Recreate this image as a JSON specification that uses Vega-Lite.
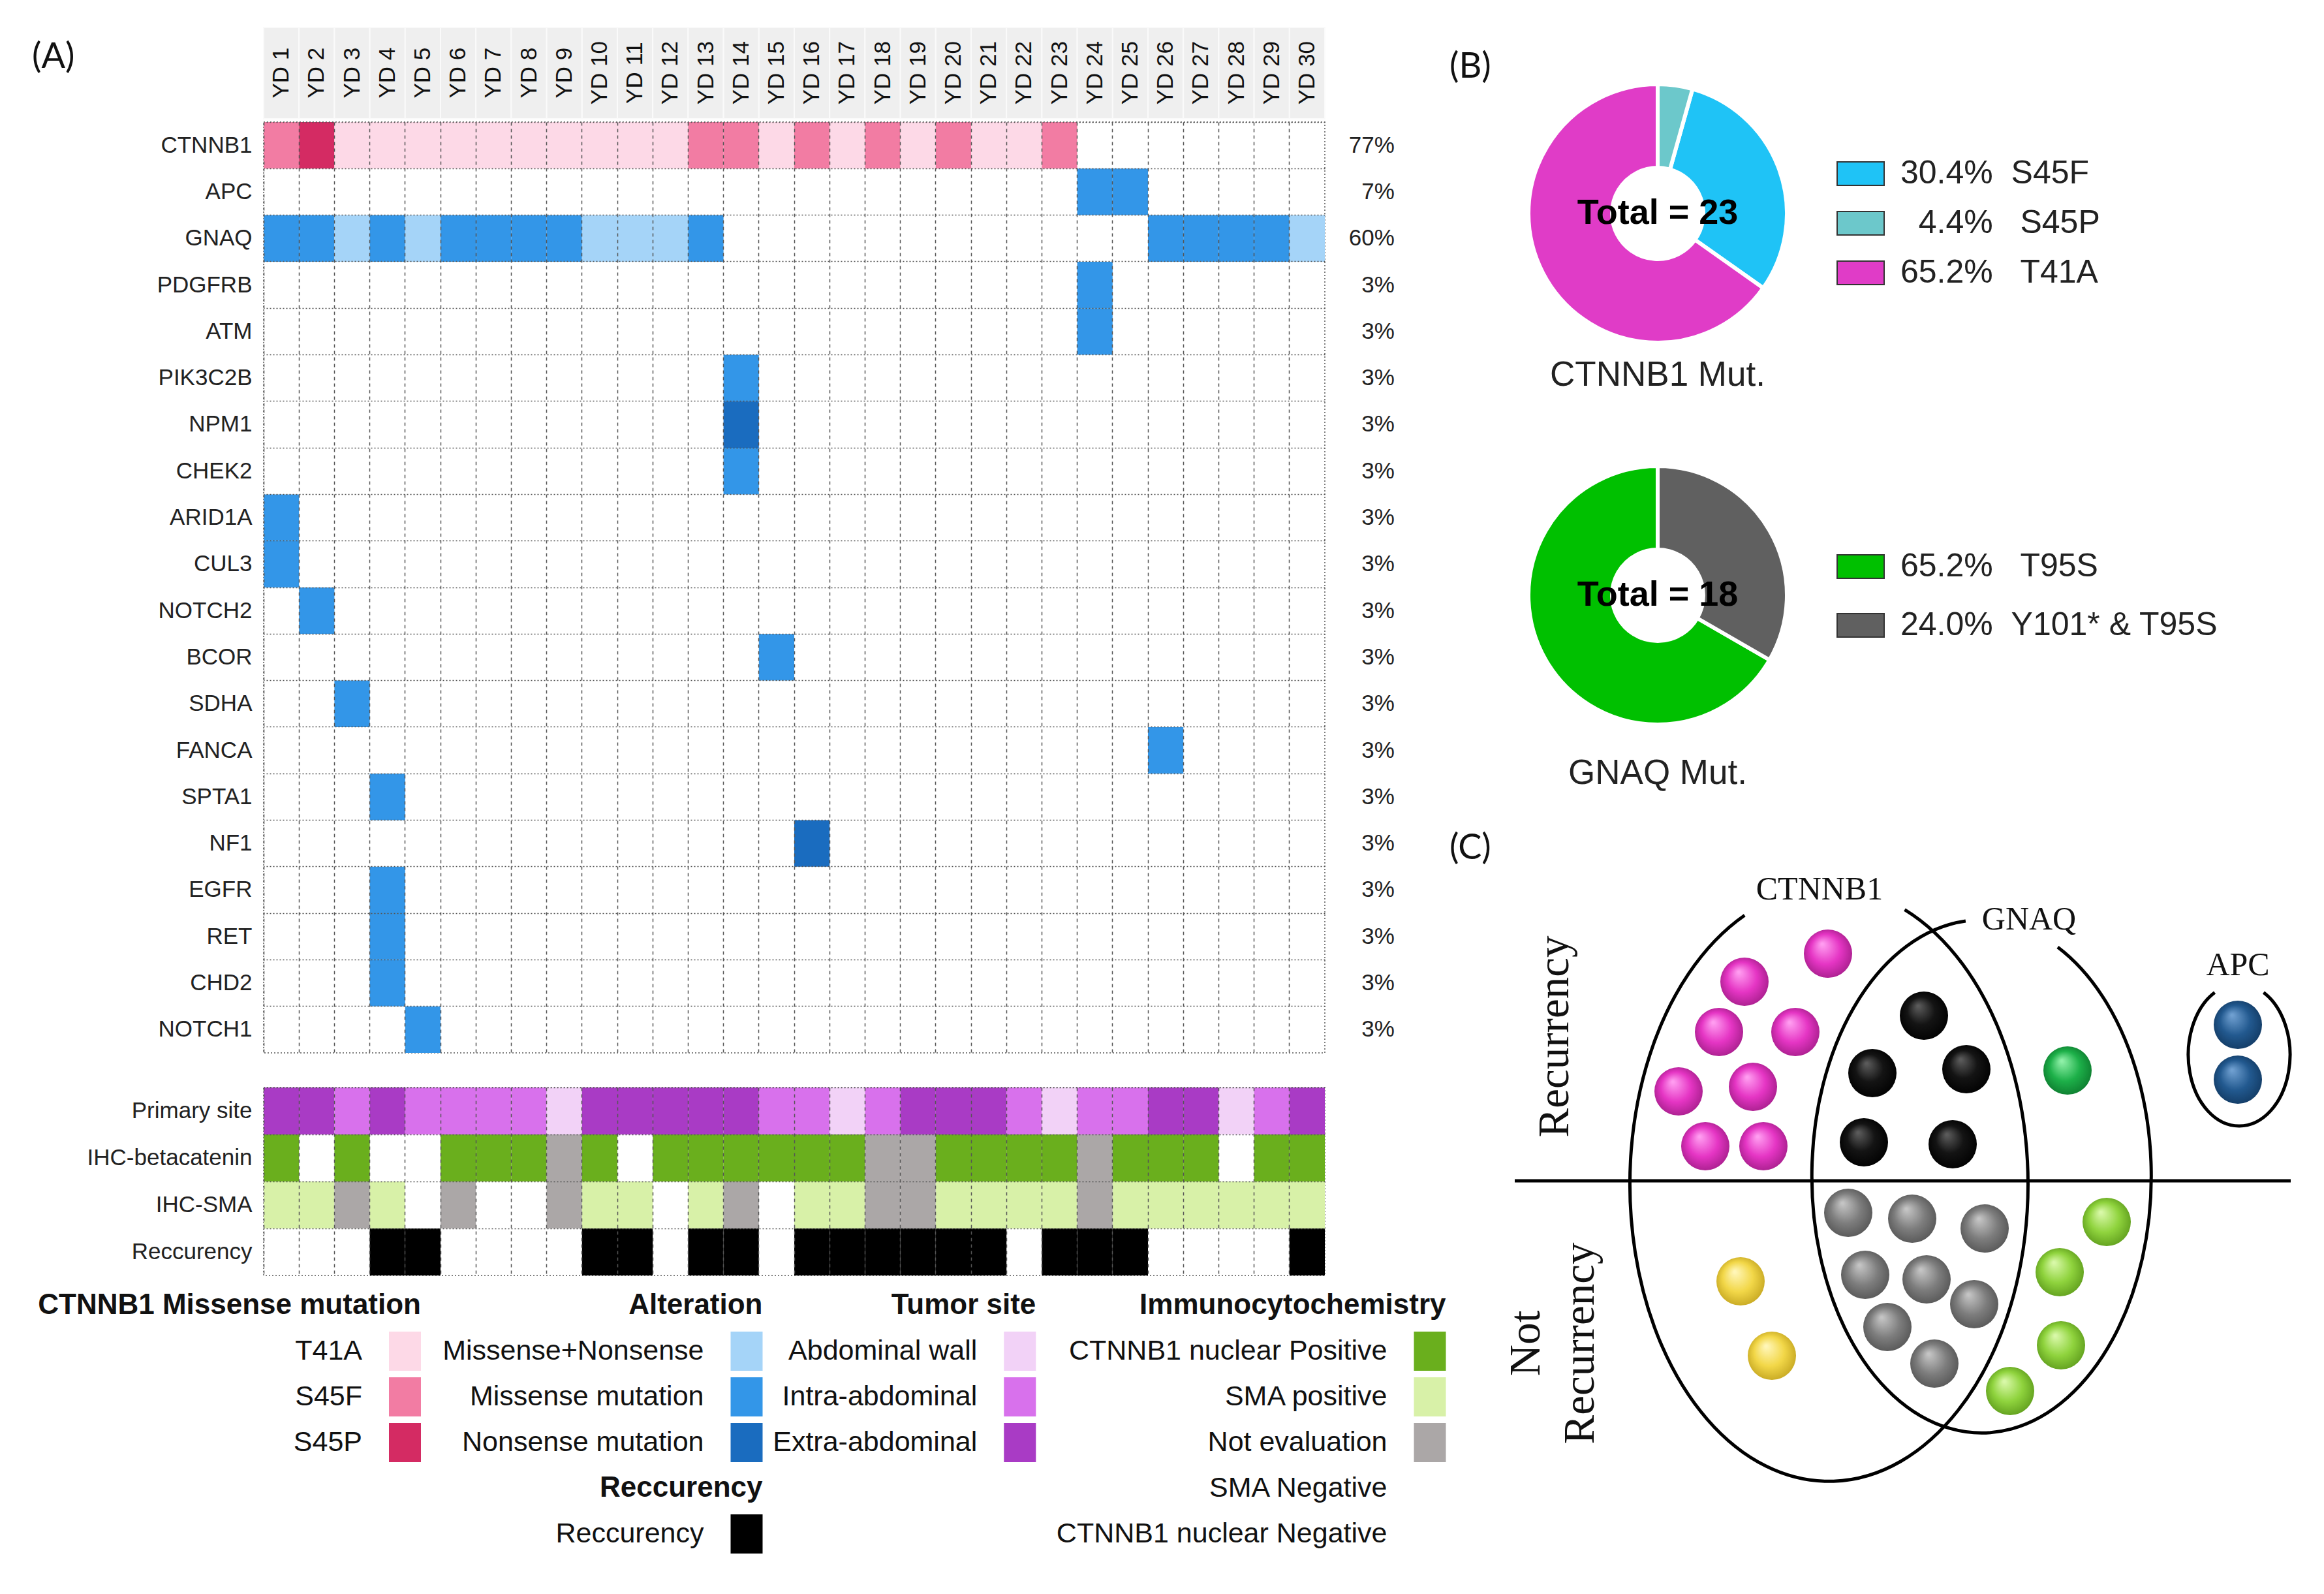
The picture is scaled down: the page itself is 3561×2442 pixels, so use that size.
{
"$schema":"https://vega.github.io/schema/vega-lite/v6.json",
"background":"white",
"padding":{"left":49,"top":41,"right":0,"bottom":0},
"config":{"font":"Liberation Sans, Arial, sans-serif","view":{"stroke":null},"text":{"font":"Liberation Sans, Arial, sans-serif"},"axis":{"labelFont":"Liberation Sans, Arial, sans-serif"}},
"spacing":4,
"resolve":{"scale":{"x":"independent","y":"independent","color":"independent"}},
"hconcat":[
{
"vconcat":[
{
"width":1626,"height":145,
"data":{"values":[{"s":"YD 1"},{"s":"YD 2"},{"s":"YD 3"},{"s":"YD 4"},{"s":"YD 5"},{"s":"YD 6"},{"s":"YD 7"},{"s":"YD 8"},{"s":"YD 9"},{"s":"YD 10"},{"s":"YD 11"},{"s":"YD 12"},{"s":"YD 13"},{"s":"YD 14"},{"s":"YD 15"},{"s":"YD 16"},{"s":"YD 17"},{"s":"YD 18"},{"s":"YD 19"},{"s":"YD 20"},{"s":"YD 21"},{"s":"YD 22"},{"s":"YD 23"},{"s":"YD 24"},{"s":"YD 25"},{"s":"YD 26"},{"s":"YD 27"},{"s":"YD 28"},{"s":"YD 29"},{"s":"YD 30"}]},
"layer":[
{"mark":{"type":"rect","fill":"#efefef","stroke":"#fafafa","strokeWidth":2},
"encoding":{"x":{"field":"s","type":"nominal","sort":null,"scale":{"domain":["YD 1","YD 2","YD 3","YD 4","YD 5","YD 6","YD 7","YD 8","YD 9","YD 10","YD 11","YD 12","YD 13","YD 14","YD 15","YD 16","YD 17","YD 18","YD 19","YD 20","YD 21","YD 22","YD 23","YD 24","YD 25","YD 26","YD 27","YD 28","YD 29","YD 30"],"paddingInner":0,"paddingOuter":0},"axis":null},
"y":{"datum":0.035,"type":"quantitative","scale":{"domain":[0,1],"nice":false},"axis":null},"y2":{"datum":1}}},
{"mark":{"type":"text","angle":270,"align":"center","baseline":"middle","fontSize":35,"color":"#111111"},
"encoding":{"x":{"field":"s","type":"nominal"},"y":{"datum":0.52,"type":"quantitative"},"text":{"field":"s"}}},
{"data":{"values":[{"lab":"(A)"}]},"mark":{"type":"text","align":"left","baseline":"middle","fontSize":54,"font":"Lato","dx":-382,"color":"#111111"},
"encoding":{"x":{"datum":"YD 1","type":"nominal"},"y":{"datum":0.683,"type":"quantitative"},"text":{"field":"lab"}}}
]
},
{
"width":1626,"height":1426,
"view":{"stroke":"#555555","strokeDash":[2,3],"strokeWidth":1.5},
"resolve":{"axis":{"y":"independent"}},
"layer":[
{"data":{"values":[
{"s":"YD 1","g":"CTNNB1","v":"S45F"},{"s":"YD 2","g":"CTNNB1","v":"S45P"},{"s":"YD 3","g":"CTNNB1","v":"T41A"},{"s":"YD 4","g":"CTNNB1","v":"T41A"},{"s":"YD 5","g":"CTNNB1","v":"T41A"},{"s":"YD 6","g":"CTNNB1","v":"T41A"},{"s":"YD 7","g":"CTNNB1","v":"T41A"},{"s":"YD 8","g":"CTNNB1","v":"T41A"},{"s":"YD 9","g":"CTNNB1","v":"T41A"},{"s":"YD 10","g":"CTNNB1","v":"T41A"},{"s":"YD 11","g":"CTNNB1","v":"T41A"},{"s":"YD 12","g":"CTNNB1","v":"T41A"},{"s":"YD 13","g":"CTNNB1","v":"S45F"},{"s":"YD 14","g":"CTNNB1","v":"S45F"},{"s":"YD 15","g":"CTNNB1","v":"T41A"},{"s":"YD 16","g":"CTNNB1","v":"S45F"},{"s":"YD 17","g":"CTNNB1","v":"T41A"},{"s":"YD 18","g":"CTNNB1","v":"S45F"},{"s":"YD 19","g":"CTNNB1","v":"T41A"},{"s":"YD 20","g":"CTNNB1","v":"S45F"},{"s":"YD 21","g":"CTNNB1","v":"T41A"},{"s":"YD 22","g":"CTNNB1","v":"T41A"},{"s":"YD 23","g":"CTNNB1","v":"S45F"},
{"s":"YD 24","g":"APC","v":"Missense mutation"},{"s":"YD 25","g":"APC","v":"Missense mutation"},
{"s":"YD 1","g":"GNAQ","v":"Missense mutation"},{"s":"YD 2","g":"GNAQ","v":"Missense mutation"},{"s":"YD 3","g":"GNAQ","v":"Missense+Nonsense"},{"s":"YD 4","g":"GNAQ","v":"Missense mutation"},{"s":"YD 5","g":"GNAQ","v":"Missense+Nonsense"},{"s":"YD 6","g":"GNAQ","v":"Missense mutation"},{"s":"YD 7","g":"GNAQ","v":"Missense mutation"},{"s":"YD 8","g":"GNAQ","v":"Missense mutation"},{"s":"YD 9","g":"GNAQ","v":"Missense mutation"},{"s":"YD 10","g":"GNAQ","v":"Missense+Nonsense"},{"s":"YD 11","g":"GNAQ","v":"Missense+Nonsense"},{"s":"YD 12","g":"GNAQ","v":"Missense+Nonsense"},{"s":"YD 13","g":"GNAQ","v":"Missense mutation"},{"s":"YD 26","g":"GNAQ","v":"Missense mutation"},{"s":"YD 27","g":"GNAQ","v":"Missense mutation"},{"s":"YD 28","g":"GNAQ","v":"Missense mutation"},{"s":"YD 29","g":"GNAQ","v":"Missense mutation"},{"s":"YD 30","g":"GNAQ","v":"Missense+Nonsense"},
{"s":"YD 24","g":"PDGFRB","v":"Missense mutation"},{"s":"YD 24","g":"ATM","v":"Missense mutation"},{"s":"YD 14","g":"PIK3C2B","v":"Missense mutation"},{"s":"YD 14","g":"NPM1","v":"Nonsense mutation"},{"s":"YD 14","g":"CHEK2","v":"Missense mutation"},{"s":"YD 1","g":"ARID1A","v":"Missense mutation"},{"s":"YD 1","g":"CUL3","v":"Missense mutation"},{"s":"YD 2","g":"NOTCH2","v":"Missense mutation"},{"s":"YD 15","g":"BCOR","v":"Missense mutation"},{"s":"YD 3","g":"SDHA","v":"Missense mutation"},{"s":"YD 26","g":"FANCA","v":"Missense mutation"},{"s":"YD 4","g":"SPTA1","v":"Missense mutation"},{"s":"YD 16","g":"NF1","v":"Nonsense mutation"},{"s":"YD 4","g":"EGFR","v":"Missense mutation"},{"s":"YD 4","g":"RET","v":"Missense mutation"},{"s":"YD 4","g":"CHD2","v":"Missense mutation"},{"s":"YD 5","g":"NOTCH1","v":"Missense mutation"}
]},
"mark":{"type":"rect"},
"encoding":{
"x":{"field":"s","type":"nominal","scale":{"domain":["YD 1","YD 2","YD 3","YD 4","YD 5","YD 6","YD 7","YD 8","YD 9","YD 10","YD 11","YD 12","YD 13","YD 14","YD 15","YD 16","YD 17","YD 18","YD 19","YD 20","YD 21","YD 22","YD 23","YD 24","YD 25","YD 26","YD 27","YD 28","YD 29","YD 30"],"paddingInner":0,"paddingOuter":0},
"axis":{"orient":"top","labels":false,"ticks":false,"domain":false,"title":null,"grid":true,"gridDash":[5,5],"gridColor":"#555555","gridWidth":1.5,"bandPosition":0,"zindex":1}},
"y":{"field":"g","type":"nominal","scale":{"domain":["CTNNB1","APC","GNAQ","PDGFRB","ATM","PIK3C2B","NPM1","CHEK2","ARID1A","CUL3","NOTCH2","BCOR","SDHA","FANCA","SPTA1","NF1","EGFR","RET","CHD2","NOTCH1"],"paddingInner":0,"paddingOuter":0},
"axis":{"ticks":false,"domain":false,"title":null,"grid":false,"labelFontSize":35,"labelColor":"#222222","labelPadding":18,"labelLimit":1000}},
"color":{"field":"v","type":"nominal","scale":{"domain":["T41A","S45F","S45P","Missense+Nonsense","Missense mutation","Nonsense mutation"],"range":["#fdd9e7","#f27ca3","#d42b63","#a5d4f8","#3396e8","#1a6cbf"]},"legend":null}}},
{"data":{"values":[{"g":"CTNNB1","p":"77%"},{"g":"APC","p":"7%"},{"g":"GNAQ","p":"60%"},{"g":"PDGFRB","p":"3%"},{"g":"ATM","p":"3%"},{"g":"PIK3C2B","p":"3%"},{"g":"NPM1","p":"3%"},{"g":"CHEK2","p":"3%"},{"g":"ARID1A","p":"3%"},{"g":"CUL3","p":"3%"},{"g":"NOTCH2","p":"3%"},{"g":"BCOR","p":"3%"},{"g":"SDHA","p":"3%"},{"g":"FANCA","p":"3%"},{"g":"SPTA1","p":"3%"},{"g":"NF1","p":"3%"},{"g":"EGFR","p":"3%"},{"g":"RET","p":"3%"},{"g":"CHD2","p":"3%"},{"g":"NOTCH1","p":"3%"}]},
"mark":{"type":"text","align":"right","baseline":"middle","dx":134,"fontSize":35,"color":"#222222"},
"encoding":{"x":{"datum":"YD 30","type":"nominal"},
"y":{"field":"g","type":"nominal","axis":{"orient":"right","labels":false,"ticks":false,"domain":false,"title":null,"grid":true,"gridDash":[2,3],"gridColor":"#555555","gridWidth":1.5,"bandPosition":0,"zindex":1}},
"text":{"field":"p"}}}
]
},
{"width":1626,"height":53,"data":{"values":[{"a":1}]},"mark":{"type":"point","opacity":0},"encoding":{}},
{
"width":1626,"height":288,
"view":{"stroke":"#555555","strokeDash":[2,3],"strokeWidth":1.5},
"resolve":{"axis":{"y":"independent"}},
"data":{"values":[
{"s":"YD 1","r":"Primary site","v":"Extra-abdominal"},{"s":"YD 2","r":"Primary site","v":"Extra-abdominal"},{"s":"YD 3","r":"Primary site","v":"Intra-abdominal"},{"s":"YD 4","r":"Primary site","v":"Extra-abdominal"},{"s":"YD 5","r":"Primary site","v":"Intra-abdominal"},{"s":"YD 6","r":"Primary site","v":"Intra-abdominal"},{"s":"YD 7","r":"Primary site","v":"Intra-abdominal"},{"s":"YD 8","r":"Primary site","v":"Intra-abdominal"},{"s":"YD 9","r":"Primary site","v":"Abdominal wall"},{"s":"YD 10","r":"Primary site","v":"Extra-abdominal"},{"s":"YD 11","r":"Primary site","v":"Extra-abdominal"},{"s":"YD 12","r":"Primary site","v":"Extra-abdominal"},{"s":"YD 13","r":"Primary site","v":"Extra-abdominal"},{"s":"YD 14","r":"Primary site","v":"Extra-abdominal"},{"s":"YD 15","r":"Primary site","v":"Intra-abdominal"},{"s":"YD 16","r":"Primary site","v":"Intra-abdominal"},{"s":"YD 17","r":"Primary site","v":"Abdominal wall"},{"s":"YD 18","r":"Primary site","v":"Intra-abdominal"},{"s":"YD 19","r":"Primary site","v":"Extra-abdominal"},{"s":"YD 20","r":"Primary site","v":"Extra-abdominal"},{"s":"YD 21","r":"Primary site","v":"Extra-abdominal"},{"s":"YD 22","r":"Primary site","v":"Intra-abdominal"},{"s":"YD 23","r":"Primary site","v":"Abdominal wall"},{"s":"YD 24","r":"Primary site","v":"Intra-abdominal"},{"s":"YD 25","r":"Primary site","v":"Intra-abdominal"},{"s":"YD 26","r":"Primary site","v":"Extra-abdominal"},{"s":"YD 27","r":"Primary site","v":"Extra-abdominal"},{"s":"YD 28","r":"Primary site","v":"Abdominal wall"},{"s":"YD 29","r":"Primary site","v":"Intra-abdominal"},{"s":"YD 30","r":"Primary site","v":"Extra-abdominal"},
{"s":"YD 1","r":"IHC-betacatenin","v":"CTNNB1 nuclear Positive"},{"s":"YD 3","r":"IHC-betacatenin","v":"CTNNB1 nuclear Positive"},{"s":"YD 6","r":"IHC-betacatenin","v":"CTNNB1 nuclear Positive"},{"s":"YD 7","r":"IHC-betacatenin","v":"CTNNB1 nuclear Positive"},{"s":"YD 8","r":"IHC-betacatenin","v":"CTNNB1 nuclear Positive"},{"s":"YD 9","r":"IHC-betacatenin","v":"Not evaluation"},{"s":"YD 10","r":"IHC-betacatenin","v":"CTNNB1 nuclear Positive"},{"s":"YD 12","r":"IHC-betacatenin","v":"CTNNB1 nuclear Positive"},{"s":"YD 13","r":"IHC-betacatenin","v":"CTNNB1 nuclear Positive"},{"s":"YD 14","r":"IHC-betacatenin","v":"CTNNB1 nuclear Positive"},{"s":"YD 15","r":"IHC-betacatenin","v":"CTNNB1 nuclear Positive"},{"s":"YD 16","r":"IHC-betacatenin","v":"CTNNB1 nuclear Positive"},{"s":"YD 17","r":"IHC-betacatenin","v":"CTNNB1 nuclear Positive"},{"s":"YD 18","r":"IHC-betacatenin","v":"Not evaluation"},{"s":"YD 19","r":"IHC-betacatenin","v":"Not evaluation"},{"s":"YD 20","r":"IHC-betacatenin","v":"CTNNB1 nuclear Positive"},{"s":"YD 21","r":"IHC-betacatenin","v":"CTNNB1 nuclear Positive"},{"s":"YD 22","r":"IHC-betacatenin","v":"CTNNB1 nuclear Positive"},{"s":"YD 23","r":"IHC-betacatenin","v":"CTNNB1 nuclear Positive"},{"s":"YD 24","r":"IHC-betacatenin","v":"Not evaluation"},{"s":"YD 25","r":"IHC-betacatenin","v":"CTNNB1 nuclear Positive"},{"s":"YD 26","r":"IHC-betacatenin","v":"CTNNB1 nuclear Positive"},{"s":"YD 27","r":"IHC-betacatenin","v":"CTNNB1 nuclear Positive"},{"s":"YD 29","r":"IHC-betacatenin","v":"CTNNB1 nuclear Positive"},{"s":"YD 30","r":"IHC-betacatenin","v":"CTNNB1 nuclear Positive"},
{"s":"YD 1","r":"IHC-SMA","v":"SMA positive"},{"s":"YD 2","r":"IHC-SMA","v":"SMA positive"},{"s":"YD 3","r":"IHC-SMA","v":"Not evaluation"},{"s":"YD 4","r":"IHC-SMA","v":"SMA positive"},{"s":"YD 6","r":"IHC-SMA","v":"Not evaluation"},{"s":"YD 9","r":"IHC-SMA","v":"Not evaluation"},{"s":"YD 10","r":"IHC-SMA","v":"SMA positive"},{"s":"YD 11","r":"IHC-SMA","v":"SMA positive"},{"s":"YD 13","r":"IHC-SMA","v":"SMA positive"},{"s":"YD 14","r":"IHC-SMA","v":"Not evaluation"},{"s":"YD 16","r":"IHC-SMA","v":"SMA positive"},{"s":"YD 17","r":"IHC-SMA","v":"SMA positive"},{"s":"YD 18","r":"IHC-SMA","v":"Not evaluation"},{"s":"YD 19","r":"IHC-SMA","v":"Not evaluation"},{"s":"YD 20","r":"IHC-SMA","v":"SMA positive"},{"s":"YD 21","r":"IHC-SMA","v":"SMA positive"},{"s":"YD 22","r":"IHC-SMA","v":"SMA positive"},{"s":"YD 23","r":"IHC-SMA","v":"SMA positive"},{"s":"YD 24","r":"IHC-SMA","v":"Not evaluation"},{"s":"YD 25","r":"IHC-SMA","v":"SMA positive"},{"s":"YD 26","r":"IHC-SMA","v":"SMA positive"},{"s":"YD 27","r":"IHC-SMA","v":"SMA positive"},{"s":"YD 28","r":"IHC-SMA","v":"SMA positive"},{"s":"YD 29","r":"IHC-SMA","v":"SMA positive"},{"s":"YD 30","r":"IHC-SMA","v":"SMA positive"},
{"s":"YD 4","r":"Reccurency","v":"Reccurency"},{"s":"YD 5","r":"Reccurency","v":"Reccurency"},{"s":"YD 10","r":"Reccurency","v":"Reccurency"},{"s":"YD 11","r":"Reccurency","v":"Reccurency"},{"s":"YD 13","r":"Reccurency","v":"Reccurency"},{"s":"YD 14","r":"Reccurency","v":"Reccurency"},{"s":"YD 16","r":"Reccurency","v":"Reccurency"},{"s":"YD 17","r":"Reccurency","v":"Reccurency"},{"s":"YD 18","r":"Reccurency","v":"Reccurency"},{"s":"YD 19","r":"Reccurency","v":"Reccurency"},{"s":"YD 20","r":"Reccurency","v":"Reccurency"},{"s":"YD 21","r":"Reccurency","v":"Reccurency"},{"s":"YD 23","r":"Reccurency","v":"Reccurency"},{"s":"YD 24","r":"Reccurency","v":"Reccurency"},{"s":"YD 25","r":"Reccurency","v":"Reccurency"},{"s":"YD 30","r":"Reccurency","v":"Reccurency"}
]},
"layer":[
{"mark":{"type":"rect"},
"encoding":{
"x":{"field":"s","type":"nominal","scale":{"domain":["YD 1","YD 2","YD 3","YD 4","YD 5","YD 6","YD 7","YD 8","YD 9","YD 10","YD 11","YD 12","YD 13","YD 14","YD 15","YD 16","YD 17","YD 18","YD 19","YD 20","YD 21","YD 22","YD 23","YD 24","YD 25","YD 26","YD 27","YD 28","YD 29","YD 30"],"paddingInner":0,"paddingOuter":0},
"axis":{"orient":"top","labels":false,"ticks":false,"domain":false,"title":null,"grid":true,"gridDash":[5,5],"gridColor":"#555555","gridWidth":1.5,"bandPosition":0,"zindex":1}},
"y":{"field":"r","type":"nominal","scale":{"domain":["Primary site","IHC-betacatenin","IHC-SMA","Reccurency"],"paddingInner":0,"paddingOuter":0},
"axis":{"ticks":false,"domain":false,"title":null,"grid":false,"labelFontSize":35,"labelColor":"#222222","labelPadding":18,"labelLimit":1000}},
"color":{"field":"v","type":"nominal","scale":{"domain":["Abdominal wall","Intra-abdominal","Extra-abdominal","CTNNB1 nuclear Positive","SMA positive","Not evaluation","Reccurency"],"range":["#f2d2f7","#d871ec","#a93bc5","#6aaf1d","#d8f1a8","#aba7a7","#000000"]},"legend":null}}},
{"mark":{"type":"rect","opacity":0},
"encoding":{"x":{"field":"s","type":"nominal"},
"y":{"field":"r","type":"nominal","axis":{"orient":"right","labels":false,"ticks":false,"domain":false,"title":null,"grid":true,"gridDash":[2,3],"gridColor":"#555555","gridWidth":1.5,"bandPosition":0,"zindex":1}}}}
]
},
{
"width":1813,"height":460,
"layer":[
{"data":{"values":[{"grp":"CTNNB1","t":"CTNNB1 Missense mutation","o":0},{"grp":"Alteration","t":"Alteration","o":0},{"grp":"Tumor","t":"Tumor site","o":0},{"grp":"IHC","t":"Immunocytochemistry","o":0},{"grp":"Alteration","t":"Reccurency","o":4}]},
"mark":{"type":"text","align":"right","baseline":"middle","dx":24.5,"fontSize":44,"fontWeight":"bold","color":"#111111"},
"encoding":{
"x":{"field":"grp","type":"nominal","scale":{"type":"point","domain":["CTNNB1","p1","p2","p3","p4","Alteration","p6","p7","p8","Tumor","p10","p11","p12","p13","p14","IHC"],"range":[216.5,1787],"padding":0},"axis":null},
"y":{"field":"o","type":"ordinal","scale":{"type":"point","domain":[0,1,2,3,4,5],"range":[46,396],"padding":0},"axis":null},
"text":{"field":"t"}}},
{"data":{"values":[{"grp":"CTNNB1","t":"T41A","o":1},{"grp":"CTNNB1","t":"S45F","o":2},{"grp":"CTNNB1","t":"S45P","o":3},{"grp":"Alteration","t":"Missense+Nonsense","o":1},{"grp":"Alteration","t":"Missense mutation","o":2},{"grp":"Alteration","t":"Nonsense mutation","o":3},{"grp":"Alteration","t":"Reccurency","o":5},{"grp":"Tumor","t":"Abdominal wall","o":1},{"grp":"Tumor","t":"Intra-abdominal","o":2},{"grp":"Tumor","t":"Extra-abdominal","o":3},{"grp":"IHC","t":"CTNNB1 nuclear Positive","o":1},{"grp":"IHC","t":"SMA positive","o":2},{"grp":"IHC","t":"Not evaluation","o":3},{"grp":"IHC","t":"SMA Negative","o":4},{"grp":"IHC","t":"CTNNB1 nuclear Negative","o":5}]},
"layer":[
{"mark":{"type":"point","shape":"M-0.8167,-1H0.8167V1H-0.8167Z","size":3600,"filled":true,"opacity":1,"strokeWidth":0},
"encoding":{"x":{"field":"grp","type":"nominal"},"y":{"field":"o","type":"ordinal"},
"color":{"field":"t","type":"nominal","scale":{"domain":["T41A","S45F","S45P","Missense+Nonsense","Missense mutation","Nonsense mutation","Reccurency","Abdominal wall","Intra-abdominal","Extra-abdominal","CTNNB1 nuclear Positive","SMA positive","Not evaluation","SMA Negative","CTNNB1 nuclear Negative"],"range":["#fdd9e7","#f27ca3","#d42b63","#a5d4f8","#3396e8","#1a6cbf","#000000","#f2d2f7","#d871ec","#a93bc5","#6aaf1d","#d8f1a8","#aba7a7","#ffffff","#ffffff"]},"legend":null}}},
{"mark":{"type":"text","align":"right","baseline":"middle","dx":-65.5,"fontSize":43,"color":"#111111"},
"encoding":{"x":{"field":"grp","type":"nominal"},"y":{"field":"o","type":"ordinal"},"text":{"field":"t"}}}
]}
]
}
],
"spacing":0,
"bounds":"flush",
"resolve":{"scale":{"x":"independent","y":"independent","color":"independent"}}
},
{
"vconcat":[
{
"width":580,"height":570,
"layer":[
{"data":{"values":[{"m":"30.4%\u00a0\u00a0S45F","n":7,"o":2},{"m":"\u200b\u00a0\u00a04.4%\u00a0\u00a0\u00a0S45P","n":1,"o":1},{"m":"65.2%\u00a0\u00a0\u00a0T41A","n":15,"o":3}]},
"mark":{"type":"arc","outerRadius":198,"innerRadius":70,"stroke":"white","strokeWidth":6},
"encoding":{"theta":{"field":"n","type":"quantitative","stack":true},"order":{"field":"o","type":"quantitative"},
"color":{"field":"m","type":"nominal","scale":{"domain":["30.4%\u00a0\u00a0S45F","\u200b\u00a0\u00a04.4%\u00a0\u00a0\u00a0S45P","65.2%\u00a0\u00a0\u00a0T41A"],"range":["#1fc3f6","#6cc8cb","#e03cc7"]},
"legend":{"title":null,"orient":"none","legendX":564,"legendY":187,"symbolType":"M-1,-0.5H1V0.5H-1Z","symbolSize":5184,"symbolStrokeColor":"#333333","symbolStrokeWidth":2,"labelFontSize":50,"labelFont":"Liberation Sans, Arial, sans-serif","labelColor":"#222222","labelOffset":24,"rowPadding":14,"labelLimit":1000,"padding":0}}}},
{"data":{"values":[{"t":"Total = 23"}]},"mark":{"type":"text","fontSize":54,"fontWeight":"bold","color":"#000000"},"encoding":{"text":{"field":"t"}}},
{"data":{"values":[{"t":"CTNNB1 Mut."}]},"mark":{"type":"text","fontSize":53,"dy":248,"color":"#222222"},"encoding":{"text":{"field":"t"}}},
{"data":{"values":[{"t":"(B)"}]},"mark":{"type":"text","fontSize":54,"font":"Lato","align":"left","dx":-319,"dy":-224,"color":"#111111"},"encoding":{"text":{"field":"t"}}}
]
},
{
"width":580,"height":600,
"layer":[
{"data":{"values":[{"m":"65.2%\u00a0\u00a0\u00a0T95S","n":12,"o":2},{"m":"24.0%\u00a0\u00a0Y101* & T95S","n":6,"o":1}]},
"mark":{"type":"arc","outerRadius":198,"innerRadius":70,"stroke":"white","strokeWidth":6},
"encoding":{"theta":{"field":"n","type":"quantitative","stack":true},"order":{"field":"o","type":"quantitative"},
"color":{"field":"m","type":"nominal","scale":{"domain":["65.2%\u00a0\u00a0\u00a0T95S","24.0%\u00a0\u00a0Y101* & T95S"],"range":["#00c000","#606060"]},
"legend":{"title":null,"orient":"none","legendX":564,"legendY":219,"symbolType":"M-1,-0.5H1V0.5H-1Z","symbolSize":5184,"symbolStrokeColor":"#333333","symbolStrokeWidth":2,"labelFontSize":50,"labelFont":"Liberation Sans, Arial, sans-serif","labelColor":"#222222","labelOffset":24,"rowPadding":28,"labelLimit":1000,"padding":0}}}},
{"data":{"values":[{"t":"Total = 18"}]},"mark":{"type":"text","fontSize":54,"fontWeight":"bold","color":"#000000"},"encoding":{"text":{"field":"t"}}},
{"data":{"values":[{"t":"GNAQ Mut."}]},"mark":{"type":"text","fontSize":53,"dy":273,"color":"#222222"},"encoding":{"text":{"field":"t"}}}
]
},
{
"width":1300,"height":1089,
"layer":[
{"data":{"values":[{"x":2321,"x2":3510,"y":1808}]},"mark":{"type":"rule","strokeWidth":5,"color":"#000000"},
"encoding":{"x":{"field":"x","type":"quantitative","scale":{"domain":[2250,3550],"nice":false,"zero":false},"axis":null},"x2":{"field":"x2"},
"y":{"field":"y","type":"quantitative","scale":{"domain":[1211,2300],"nice":false,"zero":false,"reverse":true},"axis":null}}},
{"data":{"values":[{"e":"CTNNB1","x":2802,"y":1813}]},"mark":{"type":"point","shape":"M0.256,-0.924A0.6703,1,0,1,1,-0.283,-0.905","size":828100,"filled":false,"stroke":"#000000","strokeWidth":5,"opacity":1},
"encoding":{"x":{"field":"x","type":"quantitative"},"y":{"field":"y","type":"quantitative"}}},
{"data":{"values":[{"e":"GNAQ","x":3039,"y":1801}]},"mark":{"type":"point","shape":"M0.290,-0.893A0.6616,1,0,1,1,-0.069,-0.995","size":617796,"filled":false,"stroke":"#000000","strokeWidth":5,"opacity":1},
"encoding":{"x":{"field":"x","type":"quantitative"},"y":{"field":"y","type":"quantitative"}}},
{"data":{"values":[{"e":"APC","x":3431,"y":1615}]},"mark":{"type":"point","shape":"M0.3435,-0.877A0.7156,1,0,1,1,-0.3435,-0.877","size":47524,"filled":false,"stroke":"#000000","strokeWidth":5,"opacity":1},
"encoding":{"x":{"field":"x","type":"quantitative"},"y":{"field":"y","type":"quantitative"}}},
{"data":{"name":"balls","values":[
{"c":"CTNNB1 rec","x":2801,"y":1460},{"c":"CTNNB1 rec","x":2673,"y":1503},{"c":"CTNNB1 rec","x":2634,"y":1580},{"c":"CTNNB1 rec","x":2751,"y":1580},{"c":"CTNNB1 rec","x":2572,"y":1671},{"c":"CTNNB1 rec","x":2686,"y":1664},{"c":"CTNNB1 rec","x":2613,"y":1755},{"c":"CTNNB1 rec","x":2702,"y":1755},
{"c":"both rec","x":2948,"y":1555},{"c":"both rec","x":2869,"y":1643},{"c":"both rec","x":3013,"y":1637},{"c":"both rec","x":2856,"y":1749},{"c":"both rec","x":2992,"y":1752},
{"c":"GNAQ rec","x":3168,"y":1639},
{"c":"APC","x":3429,"y":1569},{"c":"APC","x":3429,"y":1653},
{"c":"both not","x":2832,"y":1857},{"c":"both not","x":2930,"y":1866},{"c":"both not","x":3041,"y":1881},{"c":"both not","x":2858,"y":1952},{"c":"both not","x":2952,"y":1959},{"c":"both not","x":3025,"y":1997},{"c":"both not","x":2892,"y":2032},{"c":"both not","x":2964,"y":2088},
{"c":"CTNNB1 not","x":2667,"y":1962},{"c":"CTNNB1 not","x":2715,"y":2076},
{"c":"GNAQ not","x":3228,"y":1871},{"c":"GNAQ not","x":3156,"y":1948},{"c":"GNAQ not","x":3158,"y":2060},{"c":"GNAQ not","x":3080,"y":2130}
]},
"layer":[
{"transform":[{"filter":"datum.c == 'CTNNB1 rec'"}],"mark":{"type":"point","shape":"circle","size":5476,"filled":true,"opacity":1,"strokeWidth":0,"fill":{"gradient":"radial","x1":0.38,"y1":0.3,"r1":0.02,"x2":0.5,"y2":0.5,"r2":0.55,"stops":[{"offset":0,"color":"#ff9cf0"},{"offset":0.55,"color":"#e535c4"},{"offset":1,"color":"#a51e8a"}]}},"encoding":{"x":{"field":"x","type":"quantitative"},"y":{"field":"y","type":"quantitative"}}},
{"transform":[{"filter":"datum.c == 'both rec'"}],"mark":{"type":"point","shape":"circle","size":5476,"filled":true,"opacity":1,"strokeWidth":0,"fill":{"gradient":"radial","x1":0.38,"y1":0.3,"r1":0.02,"x2":0.5,"y2":0.5,"r2":0.55,"stops":[{"offset":0,"color":"#5a5a5a"},{"offset":0.5,"color":"#141414"},{"offset":1,"color":"#000000"}]}},"encoding":{"x":{"field":"x","type":"quantitative"},"y":{"field":"y","type":"quantitative"}}},
{"transform":[{"filter":"datum.c == 'GNAQ rec'"}],"mark":{"type":"point","shape":"circle","size":5476,"filled":true,"opacity":1,"strokeWidth":0,"fill":{"gradient":"radial","x1":0.38,"y1":0.3,"r1":0.02,"x2":0.5,"y2":0.5,"r2":0.55,"stops":[{"offset":0,"color":"#8ff0a8"},{"offset":0.55,"color":"#1db049"},{"offset":1,"color":"#0d7a2e"}]}},"encoding":{"x":{"field":"x","type":"quantitative"},"y":{"field":"y","type":"quantitative"}}},
{"transform":[{"filter":"datum.c == 'APC'"}],"mark":{"type":"point","shape":"circle","size":5476,"filled":true,"opacity":1,"strokeWidth":0,"fill":{"gradient":"radial","x1":0.38,"y1":0.3,"r1":0.02,"x2":0.5,"y2":0.5,"r2":0.55,"stops":[{"offset":0,"color":"#6f9fd0"},{"offset":0.55,"color":"#22598f"},{"offset":1,"color":"#123a63"}]}},"encoding":{"x":{"field":"x","type":"quantitative"},"y":{"field":"y","type":"quantitative"}}},
{"transform":[{"filter":"datum.c == 'both not'"}],"mark":{"type":"point","shape":"circle","size":5476,"filled":true,"opacity":1,"strokeWidth":0,"fill":{"gradient":"radial","x1":0.38,"y1":0.3,"r1":0.02,"x2":0.5,"y2":0.5,"r2":0.55,"stops":[{"offset":0,"color":"#c4c4c4"},{"offset":0.55,"color":"#7d7d7d"},{"offset":1,"color":"#555555"}]}},"encoding":{"x":{"field":"x","type":"quantitative"},"y":{"field":"y","type":"quantitative"}}},
{"transform":[{"filter":"datum.c == 'CTNNB1 not'"}],"mark":{"type":"point","shape":"circle","size":5476,"filled":true,"opacity":1,"strokeWidth":0,"fill":{"gradient":"radial","x1":0.38,"y1":0.3,"r1":0.02,"x2":0.5,"y2":0.5,"r2":0.55,"stops":[{"offset":0,"color":"#fff6b8"},{"offset":0.55,"color":"#f2d748"},{"offset":1,"color":"#c4a520"}]}},"encoding":{"x":{"field":"x","type":"quantitative"},"y":{"field":"y","type":"quantitative"}}},
{"transform":[{"filter":"datum.c == 'GNAQ not'"}],"mark":{"type":"point","shape":"circle","size":5476,"filled":true,"opacity":1,"strokeWidth":0,"fill":{"gradient":"radial","x1":0.38,"y1":0.3,"r1":0.02,"x2":0.5,"y2":0.5,"r2":0.55,"stops":[{"offset":0,"color":"#d8f8a8"},{"offset":0.55,"color":"#8fd33d"},{"offset":1,"color":"#5e9c1c"}]}},"encoding":{"x":{"field":"x","type":"quantitative"},"y":{"field":"y","type":"quantitative"}}}
]},
{"data":{"values":[{"t":"CTNNB1","x":2788,"y":1362},{"t":"GNAQ","x":3109,"y":1408},{"t":"APC","x":3429,"y":1478}]},"mark":{"type":"text","font":"Liberation Serif","fontSize":50,"align":"center","baseline":"middle","color":"#111111"},
"encoding":{"x":{"field":"x","type":"quantitative"},"y":{"field":"y","type":"quantitative"},"text":{"field":"t"}}},
{"data":{"values":[{"t":"Recurrency","x":2383,"y":1587},{"t":"Not","x":2339,"y":2057},{"t":"Recurrency","x":2422,"y":2057}]},"mark":{"type":"text","font":"Liberation Serif","fontSize":67,"angle":270,"align":"center","baseline":"middle","color":"#111111"},
"encoding":{"x":{"field":"x","type":"quantitative"},"y":{"field":"y","type":"quantitative"},"text":{"field":"t"}}},
{"data":{"values":[{"t":"(C)","x":2221,"y":1299}]},"mark":{"type":"text","font":"Lato","fontSize":54,"align":"left","baseline":"middle","color":"#111111"},
"encoding":{"x":{"field":"x","type":"quantitative"},"y":{"field":"y","type":"quantitative"},"text":{"field":"t"}}}
]
}
],
"spacing":0,
"bounds":"flush",
"resolve":{"scale":{"x":"independent","y":"independent","color":"independent","theta":"independent"}}
}
]
}
